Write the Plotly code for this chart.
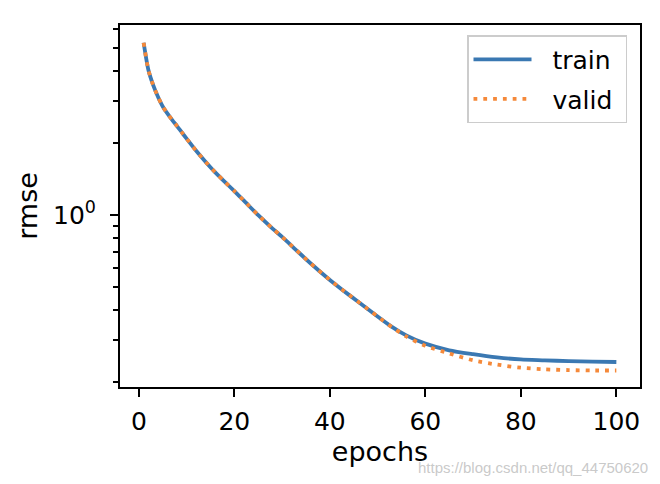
import plotly.graph_objects as go

epochs = [1, 2, 3, 4, 5, 6, 7, 8, 9, 10, 12, 14, 16, 18, 20, 22, 25, 28, 30, 33, 36, 40,
          44, 48, 50, 53, 56, 60, 65, 70, 75, 80, 85, 90, 95, 100]
train_rmse = [5.27, 4.05, 3.50, 3.13, 2.85, 2.66, 2.50, 2.36, 2.22, 2.09, 1.86, 1.67, 1.51,
              1.38, 1.26, 1.15, 1.00, 0.879, 0.811, 0.713, 0.628, 0.536, 0.464, 0.404, 0.377,
              0.341, 0.314, 0.290, 0.272, 0.262, 0.254, 0.249, 0.247, 0.245, 0.244, 0.243]
valid_rmse = [5.27, 4.05, 3.50, 3.13, 2.85, 2.66, 2.50, 2.36, 2.22, 2.09, 1.86, 1.67, 1.51,
              1.38, 1.26, 1.15, 1.00, 0.879, 0.811, 0.713, 0.628, 0.536, 0.464, 0.404, 0.377,
              0.340, 0.311, 0.284, 0.264, 0.247, 0.237, 0.230, 0.2265, 0.2248, 0.2239, 0.2239]
series_names = ["train", "valid"]
x_ticks = [0, 20, 40, 60, 80, 100]
y_major = [1]
y_major_text = ["10<sup>0</sup>"]
y_minor = [0.2, 0.3, 0.4, 0.5, 0.6, 0.7, 0.8, 0.9, 2, 3, 4, 5, 6]
watermark = "https://blog.csdn.net/qq_44750620"

BLUE = "#3a78b2"
ORANGE = "#f5893a"
FONT = "DejaVu Sans"
NB = "\u00a0"

fig = go.Figure()
fig.add_trace(go.Scatter(x=epochs, y=train_rmse, mode="lines", name=NB * 2 + series_names[0] + NB,
                         legendgroup="a",
                         line=dict(color=BLUE, width=3.8, shape="spline", smoothing=0.7)))
fig.add_trace(go.Scatter(x=epochs, y=valid_rmse, mode="lines", name=NB * 2 + series_names[1] + NB,
                         legendgroup="b",
                         line=dict(color=ORANGE, width=3.8, dash="3.8px,6px", shape="spline", smoothing=0.7)))

fig.update_layout(
    width=660, height=484,
    margin=dict(l=112, r=28, t=17, b=105),
    paper_bgcolor="white", plot_bgcolor="white",
    font=dict(family=FONT, size=25, color="black"),
    showlegend=True,
    legend=dict(x=0.975, y=0.972, xanchor="right", yanchor="top",
                bgcolor="rgba(255,255,255,0.8)", bordercolor="#cccccc", borderwidth=1.5,
                font=dict(family=FONT, size=25), itemwidth=58, tracegroupgap=4),
    xaxis=dict(range=[-3.95, 104.95], tickmode="array", tickvals=x_ticks,
               ticks="outside", ticklen=8, tickwidth=2, tickcolor="black",
               ticklabelstandoff=3,
               showline=True, linecolor="black", linewidth=2, mirror=True,
               showgrid=False, zeroline=False,
               tickfont=dict(size=25),
               title=dict(text="epochs", font=dict(size=27), standoff=6)),
    yaxis=dict(type="log", range=[-0.719, 0.796], tickmode="array", tickvals=y_major,
               ticktext=y_major_text,
               ticks="outside", ticklen=8, tickwidth=2, tickcolor="black",
               ticklabelstandoff=9,
               minor=dict(tickmode="array", tickvals=y_minor, ticks="outside", ticklen=5,
                          tickwidth=1.5, tickcolor="black", showgrid=False),
               showline=True, linecolor="black", linewidth=2, mirror=True,
               showgrid=False, zeroline=False,
               tickfont=dict(size=25),
               title=dict(text="rmse", font=dict(size=27), standoff=8)),
)

fig.add_annotation(text=watermark, xref="paper", yref="paper",
                   x=1.0192, y=-0.221, xanchor="right", yanchor="middle", showarrow=False,
                   font=dict(family="Liberation Sans", size=15, color="rgba(195,195,195,0.9)"))

fig.write_html("out.html")
